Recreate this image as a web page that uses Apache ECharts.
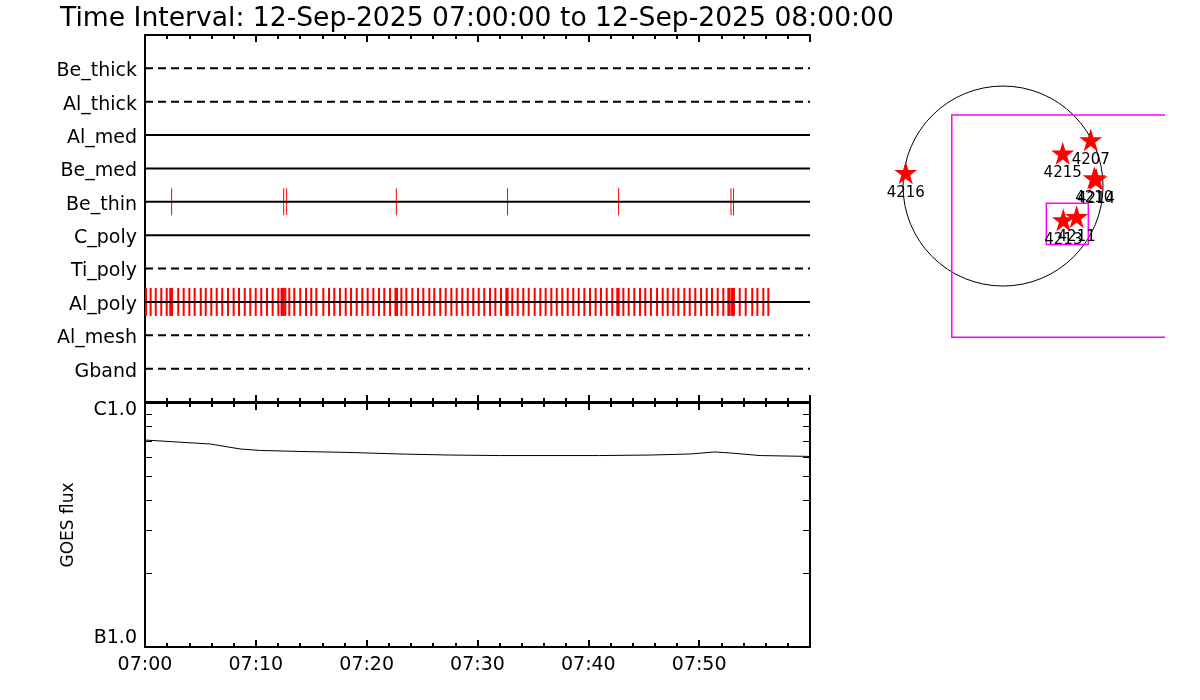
<!DOCTYPE html>
<html>
<head>
<meta charset="utf-8">
<script src="https://cdn.jsdelivr.net/npm/echarts@6/dist/echarts.min.js"></script>
<style>
  html, body { margin: 0; padding: 0; background: #fff; }
  #chart { width: 1200px; height: 700px; }
</style>
</head>
<body>
<div id="chart"></div>
<script>
// rows of the top panel, bottom to top (y = 1..10)
const rowNames = ['Gband', 'Al_mesh', 'Al_poly', 'Ti_poly', 'C_poly', 'Be_thin', 'Be_med', 'Al_med', 'Al_thick', 'Be_thick'];
const rowDashed = [true, true, false, true, false, false, false, false, true, true];

// event times, minutes after 07:00
const beThinTimes = [2.40, 12.51, 12.78, 22.68, 32.71, 42.73, 52.87, 53.10];
const alPolyTimes = [
  0.09, 0.51, 0.97, 1.47, 1.96, 2.28, 2.44, 3.00, 3.49, 4.00, 4.48, 5.03, 5.48, 5.98, 6.47, 6.97,
  7.49, 8.00, 8.48, 9.00, 9.50, 9.99, 10.49, 11.01, 11.52, 12.03, 12.32, 12.42, 12.51, 12.66, 13.02,
  13.47, 14.01, 14.53, 15.00, 15.46, 16.09, 16.60, 17.08, 17.59, 18.11, 18.59, 19.10, 19.61, 20.09,
  20.60, 21.11, 21.59, 22.11, 22.60, 22.74, 23.13, 23.58, 24.12, 24.63, 25.11, 25.65, 26.10, 26.64,
  27.13, 27.64, 28.12, 28.63, 29.12, 29.62, 30.11, 30.61, 31.13, 31.61, 32.12, 32.60, 32.72, 33.14,
  33.63, 34.13, 34.62, 35.16, 35.67, 36.15, 36.66, 37.15, 37.65, 38.14, 38.64, 39.13, 39.64, 40.15,
  40.66, 41.14, 41.66, 42.16, 42.61, 42.74, 43.16, 43.64, 44.15, 44.66, 45.14, 45.65, 46.20, 46.71,
  47.16, 47.67, 48.12, 48.66, 49.15, 49.65, 50.17, 50.68, 51.16, 51.67, 52.18, 52.63, 52.75, 52.96,
  53.14, 53.66, 54.20, 54.79, 55.25, 55.79, 56.24
];

// GOES flux (W/m^2)
const goesTimes = [0, 5.9, 8.6, 10.4, 14, 18.5, 23, 27.5, 32, 41, 45.6, 49.2, 51.4, 52.8, 55.5, 60];
const goesFlux = [7.05e-7, 6.79e-7, 6.48e-7, 6.39e-7, 6.33e-7, 6.27e-7, 6.18e-7, 6.12e-7, 6.09e-7,
  6.09e-7, 6.12e-7, 6.18e-7, 6.30e-7, 6.24e-7, 6.09e-7, 6.04e-7];
const fluxTicks = [1e-7, 2e-7, 3e-7, 4e-7, 5e-7, 6e-7, 7e-7, 8e-7, 9e-7, 1e-6];
const fluxLabelValues = [1e-7, 1e-6];
const fluxLabels = ['B1.0', 'C1.0'];

// map panel, arcsec
const diskRadius = 960;
const fovBoxes = [[-492, 682, 2400, -1452], [416, -166, 819, -560]];
const arNames = ['4216', '4207', '4215', '4210', '4214', '4213', '4211'];
const arX = [-934, 842, 573, 876, 893, 579, 707];
const arY = [128, 442, 314, 77, 67, -326, -295];

const font = 'DejaVu Sans';
const chart = echarts.init(document.getElementById('chart'));

const rowSeries = rowNames.map((name, i) => ({
  type: 'line', xAxisIndex: 0, yAxisIndex: 0, z: 5, silent: true,
  symbol: 'none',
  data: [[0, i + 1], [60, i + 1]],
  lineStyle: { color: '#000', width: 2, type: rowDashed[i] ? [8, 5] : 'solid' }
}));

const timeLabel = v => (v >= 60 ? '' : '07:' + String(v).padStart(2, '0'));

const timeAxis = (grid, position, labels) => ({
  type: 'value', gridIndex: grid, position: position, min: 0, max: 60, interval: 10,
  axisLine: { show: true, onZero: false, lineStyle: { color: '#000', width: 2 } },
  axisTick: { show: true, inside: true, length: 7, lineStyle: { color: '#000', width: 2 } },
  minorTick: { show: true, splitNumber: 5, length: 4, lineStyle: { color: '#000', width: 2 } },
  splitLine: { show: false },
  axisLabel: labels
    ? { show: true, margin: 9, color: '#000', fontFamily: font, fontSize: 19, formatter: timeLabel }
    : { show: false }
});

const fluxAxis = (position, labels) => ({
  type: 'log', gridIndex: 1, position: position, min: 1e-7, max: 1e-6, logBase: 10,
  axisLine: { show: true, onZero: false, lineStyle: { color: '#000', width: 2 } },
  axisTick: { show: true, inside: true, length: 7, customValues: fluxTicks, lineStyle: { color: '#000', width: 1 } },
  splitLine: { show: false },
  axisLabel: labels
    ? {
        show: true, margin: 8, color: '#000', fontFamily: font, fontSize: 19,
        customValues: fluxLabelValues,
        formatter: v => (v < 3e-7 ? '{lo|' + fluxLabels[0] + '}' : '{hi|' + fluxLabels[1] + '}'),
        rich: {
          lo: { color: '#000', fontFamily: font, fontSize: 19, padding: [0, 0, 18, 0] },
          hi: { color: '#000', fontFamily: font, fontSize: 19, padding: [14, 0, 0, 0] }
        }
      }
    : { show: false },
  name: labels ? 'GOES flux' : '',
  nameLocation: 'middle', nameRotate: 90, nameGap: 68,
  nameTextStyle: { color: '#000', fontFamily: font, fontSize: 17 }
});

const starPath = 'path://M12,0 L14.8,8.6 L24,8.6 L16.6,14 L19.4,22.8 L12,17.4 L4.6,22.8 L7.4,14 L0,8.6 L9.2,8.6 Z';

chart.setOption({
  animation: false,
  backgroundColor: '#fff',
  title: {
    text: 'Time Interval: 12-Sep-2025 07:00:00 to 12-Sep-2025 08:00:00',
    left: 55, top: 1,
    textStyle: { color: '#000', fontFamily: font, fontWeight: 'normal', fontSize: 26.6 }
  },
  grid: [
    { left: 145, top: 35, width: 665, height: 367 },
    { left: 145, top: 403, width: 665, height: 244 },
    { left: 845, top: 30, width: 320, height: 320 }
  ],
  xAxis: [
    timeAxis(0, 'bottom', false),
    timeAxis(0, 'top', false),
    timeAxis(1, 'bottom', true),
    timeAxis(1, 'top', false),
    { type: 'value', gridIndex: 2, min: -1517, max: 1555, show: false }
  ],
  yAxis: [
    {
      type: 'value', gridIndex: 0, position: 'left', min: 0, max: 11, interval: 1,
      axisLine: { show: true, lineStyle: { color: '#000', width: 2 } },
      axisTick: { show: false }, splitLine: { show: false },
      axisLabel: {
        margin: 8, color: '#000', fontFamily: font, fontSize: 19,
        formatter: v => (rowNames[v - 1] ? '{r|' + rowNames[v - 1] + '}' : ''),
        rich: { r: { color: '#000', fontFamily: font, fontSize: 19, padding: [6, 0, 0, 0] } }
      }
    },
    {
      type: 'value', gridIndex: 0, position: 'right', min: 0, max: 11,
      axisLine: { show: true, lineStyle: { color: '#000', width: 2 } },
      axisTick: { show: false }, splitLine: { show: false }, axisLabel: { show: false }
    },
    fluxAxis('left', true),
    fluxAxis('right', false),
    { type: 'value', gridIndex: 2, min: -1574, max: 1498, show: false }
  ],
  series: [
    ...rowSeries,
    {
      type: 'scatter', xAxisIndex: 0, yAxisIndex: 0, z: 3, silent: true,
      symbol: 'rect', symbolSize: [1, 27],
      itemStyle: { color: '#ff0000', opacity: 1 },
      data: beThinTimes.map(t => [t, 6])
    },
    {
      type: 'scatter', xAxisIndex: 0, yAxisIndex: 0, z: 3, silent: true,
      symbol: 'rect', symbolSize: [2, 28],
      itemStyle: { color: '#ff0000', opacity: 1 },
      data: alPolyTimes.map(t => [t, 3])
    },
    {
      type: 'line', xAxisIndex: 2, yAxisIndex: 2, symbol: 'none', silent: true,
      lineStyle: { color: '#000', width: 1 },
      data: goesTimes.map((t, i) => [t, goesFlux[i]])
    },
    {
      // solar disk
      type: 'custom', xAxisIndex: 4, yAxisIndex: 4, silent: true,
      data: [[0, 0, diskRadius]],
      renderItem: (params, api) => {
        const c = api.coord([api.value(0), api.value(1)]);
        const r = api.size([api.value(2), 0])[0];
        return {
          type: 'circle',
          shape: { cx: c[0], cy: c[1], r: r },
          style: { fill: 'none', stroke: '#000', lineWidth: 1 }
        };
      }
    },
    {
      // fields of view
      type: 'custom', xAxisIndex: 4, yAxisIndex: 4, silent: true,
      data: fovBoxes,
      renderItem: (params, api) => {
        const cs = params.coordSys;
        const p0 = api.coord([api.value(0), api.value(1)]);
        const p1 = api.coord([api.value(2), api.value(3)]);
        const xr = Math.min(p1[0], cs.x + cs.width);
        const pts = [[xr, p0[1]], [p0[0], p0[1]], [p0[0], p1[1]], [xr, p1[1]]];
        if (xr === p1[0]) pts.push([xr, p0[1]]);
        return {
          type: 'polyline',
          shape: { points: pts },
          style: { fill: 'none', stroke: '#ff00ff', lineWidth: 1.5 }
        };
      }
    },
    {
      type: 'scatter', xAxisIndex: 4, yAxisIndex: 4, silent: true, z: 4,
      symbol: starPath, symbolSize: 23,
      itemStyle: { color: '#ff0000', opacity: 1 },
      label: {
        show: true, position: 'bottom', distance: 1, opacity: 1,
        color: '#000', fontFamily: font, fontSize: 15,
        formatter: p => arNames[p.dataIndex]
      },
      data: arX.map((x, i) => [x, arY[i]])
    }
  ]
});
</script>
</body>
</html>
